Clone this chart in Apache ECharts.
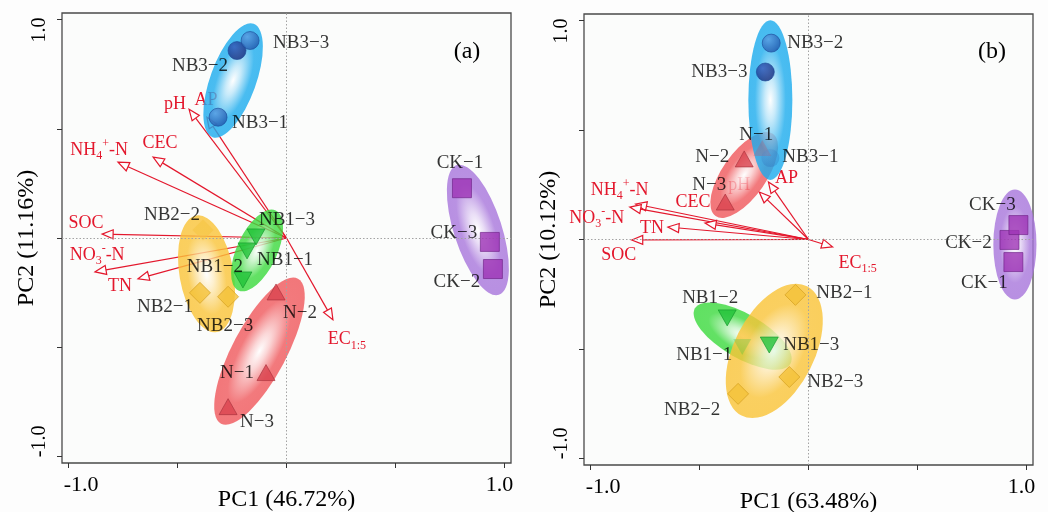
<!DOCTYPE html>
<html><head><meta charset="utf-8">
<script src="https://cdn.jsdelivr.net/npm/echarts@6/dist/echarts.min.js"></script>
<style>html,body{margin:0;padding:0;background:#fdfdfd}#c{width:1048px;height:512px}</style>
</head><body><div id="c"></div>
<script>
// ================= DATA =================
const axisTitlesA = ['PC1 (46.72%)', 'PC2 (11.16%)'];
const axisTitlesB = ['PC1 (63.48%)', 'PC2 (10.12%)'];
const panelTags = ['(a)', '(b)'];
const tickValues = [-1, -0.5, 0, 0.5, 1];
const tickLabelValues = [-1, 1];
const groups = ['N', 'NB1', 'NB2', 'NB3', 'CK'];

// Panel (a) sample scores  [name, PC1, PC2]
const samplesA_N   = [['N−1', -0.094, -0.616], ['N−2', -0.048, -0.247], ['N−3', -0.268, -0.772]];
const samplesA_NB1 = [['NB1−1', -0.181, -0.059], ['NB1−2', -0.200, -0.192], ['NB1−3', -0.140, 0.005]];
const samplesA_NB2 = [['NB2−1', -0.397, -0.251], ['NB2−2', -0.383, 0.037], ['NB2−3', -0.268, -0.269]];
const samplesA_NB3 = [['NB3−1', -0.314, 0.553], ['NB3−2', -0.227, 0.858], ['NB3−3', -0.167, 0.904]];
const samplesA_CK  = [['CK−1', 0.805, 0.228], ['CK−2', 0.947, -0.142], ['CK−3', 0.933, -0.018]];

// Panel (b) sample scores
const samplesB_N   = [['N−1', -0.212, 0.418], ['N−2', -0.295, 0.368], ['N−3', -0.382, 0.171]];
const samplesB_NB1 = [['NB1−1', -0.304, -0.491], ['NB1−2', -0.373, -0.358], ['NB1−3', -0.180, -0.482]];
const samplesB_NB2 = [['NB2−1', -0.060, -0.253], ['NB2−2', -0.323, -0.705], ['NB2−3', -0.088, -0.628]];
const samplesB_NB3 = [['NB3−1', -0.175, 0.372], ['NB3−2', -0.171, 0.897], ['NB3−3', -0.198, 0.765]];
const samplesB_CK  = [['CK−1', 0.940, -0.103], ['CK−2', 0.922, -0.002], ['CK−3', 0.963, 0.066]];

// Environmental variable loadings [key, PC1, PC2]
const loadingsA = [['pH', -0.447, 0.589], ['AP', -0.365, 0.553], ['NH4', -0.773, 0.347], ['CEC', -0.612, 0.370],
                   ['SOC', -0.846, 0.018], ['NO3', -0.878, -0.155], ['TN', -0.681, -0.187], ['EC', 0.213, -0.374]];
const loadingsB = [['NH4', -0.793, 0.162], ['NO3', -0.820, 0.148], ['CEC', -0.475, 0.075], ['TN', -0.645, 0.057],
                   ['SOC', -0.811, -0.002], ['pH', -0.226, 0.217], ['AP', -0.184, 0.263], ['EC', 0.111, -0.034]];

// Group ellipses [group, centerPC1, centerPC2, semiMajor, semiMinor, angleDeg]
const ellipsesA = [['NB2', -0.367, -0.164, 0.271, 0.124, 100], ['N', -0.124, -0.518, 0.376, 0.124, 62],
                   ['NB1', -0.135, -0.057, 0.202, 0.092, 65], ['NB3', -0.245, 0.721, 0.276, 0.105, 70],
                   ['CK', 0.878, 0.037, 0.312, 0.110, 108]];
const ellipsesB = [['N', -0.295, 0.295, 0.229, 0.101, 55], ['NB3', -0.175, 0.637, 0.365, 0.101, 90],
                   ['NB1', -0.302, -0.441, 0.253, 0.101, -30], ['NB2', -0.157, -0.509, 0.331, 0.184, 63],
                   ['CK', 0.947, -0.023, 0.251, 0.099, 90]];

// ================= LABEL PLACEMENT (px offsets) =================
const labelOffsetA = {
  'NB3−3': [51, 2], 'NB3−2': [-37, 15], 'NB3−1': [42, 6],
  'NB2−2': [-31, -15], 'NB2−1': [-35, 14], 'NB2−3': [-3, 29],
  'NB1−3': [31, -17], 'NB1−1': [38, 9], 'NB1−2': [-28, -13],
  'N−2': [24, 21], 'N−1': [-29, 0], 'N−3': [29, 15],
  'CK−1': [-2, -25], 'CK−3': [-36, -9], 'CK−2': [-36, 13]
};
const labelOffsetB = {
  'NB3−2': [44, 0], 'NB3−3': [-46, 0], 'NB3−1': [40, -1],
  'N−1': [-6, -13], 'N−2': [-32, -2], 'N−3': [-16, -17],
  'NB1−2': [-17, -20], 'NB1−1': [-38, 8], 'NB1−3': [42, 0],
  'NB2−1': [49, -2], 'NB2−3': [46, 5], 'NB2−2': [-46, 16],
  'CK−3': [-26, -20], 'CK−2': [-41, 3], 'CK−1': [-29, 21]
};
const loadingOffsetA = {pH: [-14, -5], AP: [-1, -17], NH4: [-19, -12], CEC: [7, -14], SOC: [-16, -11], NO3: [2, -17], TN: [-18, 7], EC: [14, 20]};
const loadingOffsetB = {NH4: [-16, -14], NO3: [-33, 11], CEC: [-12, -21], TN: [-16, 1], SOC: [-13, 15], pH: [-20, -7], AP: [18, -4], EC: [25, 16]};
const loadingText = {
  pH: '{m|pH}', AP: '{m|AP}', CEC: '{m|CEC}', SOC: '{m|SOC}', TN: '{m|TN}',
  NH4: '{m|NH}{sub|4}{sup|+}{m|-N}', NO3: '{m|NO}{sub|3}{sup|-}{m|-N}', EC: '{m|EC}{sub|1:5}'
};
const fadedA = ['NB2−2'];
const fadedB = ['N−1', 'NB3−1', 'NB1−1'];
const darkA = ['NB3−2'];
const darkB = ['NB3−3'];

// ================= STYLE =================
const SERIF = '"Liberation Serif","Times New Roman",serif';
const RED = '#e3172c';
const ellRGB = {N: [240, 88, 92], NB1: [60, 218, 62], NB2: [250, 196, 56], NB3: [28, 172, 238], CK: [168, 118, 220]};
function ball(c0, c1) {
  return {type: 'radial', x: 0.35, y: 0.3, r: 0.75, colorStops: [{offset: 0, color: c0}, {offset: 1, color: c1}]};
}
const groupStyle = {
  N:   {symbol: 'triangle', size: [18, 16], rotate: 0, color: '#d9434f', border: '#a8303c', faded: 'rgba(217,67,79,0.3)'},
  NB1: {symbol: 'triangle', size: [18, 16], rotate: 180, color: '#22c23a', border: '#12962a', faded: 'rgba(34,194,58,0.3)'},
  NB2: {symbol: 'diamond', size: [21, 21], rotate: 0, color: '#f4c23a', border: '#d09c1c', faded: 'rgba(244,194,58,0.55)'},
  NB3: {symbol: 'circle', size: 18, rotate: 0, color: ball('#5d9fe3', '#1d52a8'), border: '#1a4a98',
        faded: ball('rgba(93,159,227,0.3)', 'rgba(29,82,168,0.3)'), dark: ball('#3558b8', '#0f2676')},
  CK:  {symbol: 'rect', size: 19, rotate: 0, color: '#9d33b5', border: '#6e1f86', faded: 'rgba(157,51,181,0.3)'}
};

function fmt(v) { return v.toFixed(1); }
function xAxisCfg(g, title) {
  return {
    type: 'value', gridIndex: g, min: -1.03, max: 1.03,
    name: title, nameLocation: 'middle', nameGap: 25, nameMoveOverlap: false,
    nameTextStyle: {fontFamily: SERIF, fontSize: 24, color: '#000'},
    axisLine: {show: false, onZero: false}, splitLine: {show: false},
    axisTick: {show: true, inside: false, length: 5, customValues: tickValues, lineStyle: {color: '#333', width: 1}},
    axisLabel: {show: true, customValues: tickLabelValues, margin: 11,
      formatter: v => (v < 0 ? '{l|' : '{r|') + fmt(v) + '}',
      rich: {l: {fontFamily: SERIF, fontSize: 22, color: '#000', padding: [0, 0, 0, 25]},
             r: {fontFamily: SERIF, fontSize: 22, color: '#000', padding: [0, 10, 0, 0]}}}
  };
}
function yAxisCfg(g, title) {
  return {
    type: 'value', gridIndex: g, min: -1.03, max: 1.03,
    name: title, nameLocation: 'middle', nameGap: 23, nameMoveOverlap: false,
    nameTextStyle: {fontFamily: SERIF, fontSize: 24, color: '#000'},
    axisLine: {show: false, onZero: false}, splitLine: {show: false},
    axisTick: {show: true, inside: false, length: 5, customValues: tickValues, lineStyle: {color: '#333', width: 1}},
    axisLabel: {show: true, customValues: tickLabelValues, margin: 12, rotate: 90,
      formatter: v => (v < 0 ? '{l|' : '{r|') + fmt(v) + '}',
      rich: {l: {fontFamily: SERIF, fontSize: 20, color: '#000', padding: [0, 0, 0, 30]},
             r: {fontFamily: SERIF, fontSize: 20, color: '#000', padding: [0, 21, 0, 0]}}}
  };
}

function zeroLines(g) {
  return {type: 'line', xAxisIndex: g, yAxisIndex: g, data: [], z: 1, silent: true,
    markLine: {silent: true, symbol: ['none', 'none'], label: {show: false}, animation: false,
      lineStyle: {type: [1.5, 2], color: '#a3a3a3', width: 1}, emphasis: {disabled: true},
      data: [{xAxis: 0}, {yAxis: 0}]}};
}

function arrowSeries(g, loadings, offsets) {
  return {
    type: 'custom', xAxisIndex: g, yAxisIndex: g, z: 2, silent: true,
    data: loadings.map(l => [l[1], l[2]]),
    encode: {x: 0, y: 1},
    renderItem: function (params, api) {
      const key = loadings[params.dataIndex][0];
      const o = api.coord([0, 0]);
      const t = api.coord([api.value(0), api.value(1)]);
      const dx = t[0] - o[0], dy = t[1] - o[1];
      const L = Math.hypot(dx, dy), ux = dx / L, uy = dy / L;
      const hl = 11, hw = 4.5;
      const bx = t[0] - ux * hl, by = t[1] - uy * hl;
      const p1 = [bx - uy * hw, by + ux * hw], p2 = [bx + uy * hw, by - ux * hw];
      const off = offsets[key];
      return {type: 'group', children: [
        {type: 'line', shape: {x1: o[0], y1: o[1], x2: bx, y2: by}, style: {stroke: RED, lineWidth: 1.2}},
        {type: 'polygon', shape: {points: [t, p1, p2]}, style: {fill: '#fdfdfd', stroke: RED, lineWidth: 1.2}},
        {type: 'text', x: t[0] + off[0], y: t[1] + off[1], style: {
          text: loadingText[key], align: 'center', verticalAlign: 'middle',
          rich: {
            m: {fill: RED, fontSize: 18, fontFamily: SERIF, lineHeight: 24, verticalAlign: 'middle'},
            sub: {fill: RED, fontSize: 12, fontFamily: SERIF, lineHeight: 12, verticalAlign: 'bottom'},
            sup: {fill: RED, fontSize: 12, fontFamily: SERIF, lineHeight: 12, verticalAlign: 'top'}
          }}}
      ]};
    }
  };
}

function ellipseSeries(g, ellipses) {
  return {
    type: 'custom', xAxisIndex: g, yAxisIndex: g, z: 3, silent: true,
    data: ellipses.map(e => [e[1], e[2], e[3], e[4], e[5], groups.indexOf(e[0])]),
    encode: {x: 0, y: 1},
    renderItem: function (params, api) {
      const cx = api.value(0), cy = api.value(1), a = api.value(2), b = api.value(3);
      const ang = api.value(4) * Math.PI / 180;
      const rgb = ellRGB[groups[api.value(5)]];
      const c = api.coord([cx, cy]);
      const pa = api.coord([cx + a * Math.cos(ang), cy + a * Math.sin(ang)]);
      const pb = api.coord([cx - b * Math.sin(ang), cy + b * Math.cos(ang)]);
      const ra = Math.hypot(pa[0] - c[0], pa[1] - c[1]);
      const rb = Math.hypot(pb[0] - c[0], pb[1] - c[1]);
      const rot = Math.atan2(-(pa[1] - c[1]), pa[0] - c[0]);
      const col = (al) => 'rgba(' + rgb[0] + ',' + rgb[1] + ',' + rgb[2] + ',' + al + ')';
      const mix = (f, al) => 'rgba(' + rgb.map(v => Math.round(v + (255 - v) * f)).join(',') + ',' + al + ')';
      return {
        type: 'circle', x: c[0], y: c[1], scaleX: ra / rb, scaleY: 1, rotation: rot,
        shape: {cx: 0, cy: 0, r: rb},
        style: {opacity: 0.88, fill: {type: 'radial', x: 0.5, y: 0.5, r: 0.5, colorStops: [
          {offset: 0, color: 'rgba(255,255,255,0.95)'},
          {offset: 0.25, color: mix(0.7, 0.9)},
          {offset: 0.7, color: col(0.9)},
          {offset: 1, color: col(0.92)}
        ]}}
      };
    }
  };
}

function scatterSeries(g, group, samples, offsets, faded, dark) {
  const st = groupStyle[group];
  return {
    type: 'scatter', name: group, xAxisIndex: g, yAxisIndex: g, z: 5,
    symbol: st.symbol, symbolSize: st.size, symbolRotate: st.rotate,
    itemStyle: {color: st.color, borderColor: st.border, borderWidth: 0.8},
    label: {show: true, position: 'inside', formatter: '{b}', color: '#000', fontFamily: SERIF, fontSize: 19,
      textBorderWidth: 0, textShadowBlur: 0},
    emphasis: {disabled: true},
    data: samples.map(s => {
      const item = {name: s[0], value: [s[1], s[2]], label: {offset: offsets[s[0]]}};
      if (faded.includes(s[0])) item.itemStyle = {color: st.faded, borderColor: 'rgba(0,0,0,0)'};
      else if (dark.includes(s[0]) && st.dark) item.itemStyle = {color: st.dark};
      return item;
    })
  };
}

const option = {
  backgroundColor: '#fdfdfd',
  animation: false,
  grid: [
    {left: 62, top: 13, width: 449, height: 450, show: true, outerBoundsMode: 'none', containLabel: false,
     backgroundColor: '#fbfcfb', borderColor: '#4a4a4a', borderWidth: 1.3},
    {left: 584, top: 14, width: 449, height: 451, show: true, outerBoundsMode: 'none', containLabel: false,
     backgroundColor: '#fbfcfb', borderColor: '#4a4a4a', borderWidth: 1.3}
  ],
  xAxis: [xAxisCfg(0, axisTitlesA[0]), xAxisCfg(1, axisTitlesB[0])],
  yAxis: [yAxisCfg(0, axisTitlesA[1]), yAxisCfg(1, axisTitlesB[1])],
  graphic: [
    {type: 'text', x: 467, y: 52, style: {text: panelTags[0], font: '24px ' + SERIF, fill: '#000', align: 'center', verticalAlign: 'middle'}},
    {type: 'text', x: 992, y: 52, style: {text: panelTags[1], font: '24px ' + SERIF, fill: '#000', align: 'center', verticalAlign: 'middle'}}
  ],
  series: [
    zeroLines(0), zeroLines(1),
    arrowSeries(0, loadingsA, loadingOffsetA), arrowSeries(1, loadingsB, loadingOffsetB),
    ellipseSeries(0, ellipsesA), ellipseSeries(1, ellipsesB),
    scatterSeries(0, 'N', samplesA_N, labelOffsetA, fadedA, darkA),
    scatterSeries(0, 'NB1', samplesA_NB1, labelOffsetA, fadedA, darkA),
    scatterSeries(0, 'NB2', samplesA_NB2, labelOffsetA, fadedA, darkA),
    scatterSeries(0, 'NB3', samplesA_NB3, labelOffsetA, fadedA, darkA),
    scatterSeries(0, 'CK', samplesA_CK, labelOffsetA, fadedA, darkA),
    scatterSeries(1, 'N', samplesB_N, labelOffsetB, fadedB, darkB),
    scatterSeries(1, 'NB1', samplesB_NB1, labelOffsetB, fadedB, darkB),
    scatterSeries(1, 'NB2', samplesB_NB2, labelOffsetB, fadedB, darkB),
    scatterSeries(1, 'NB3', samplesB_NB3, labelOffsetB, fadedB, darkB),
    scatterSeries(1, 'CK', samplesB_CK, labelOffsetB, fadedB, darkB)
  ]
};
const chart = echarts.init(document.getElementById('c'));
chart.setOption(option);
</script></body></html>
